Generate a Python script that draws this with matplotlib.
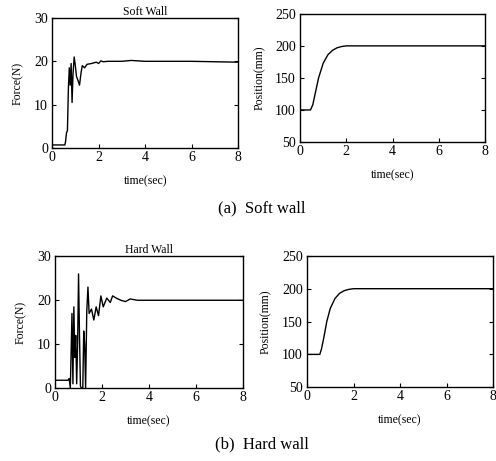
import matplotlib.pyplot as plt

plt.rcParams["font.family"] = ["Liberation Serif", "DejaVu Serif"]

# Soft wall force (N) vs time (sec)
soft_force_t = [0.0, 0.55, 0.58, 0.62, 0.66, 0.70, 0.74, 0.78, 0.82, 0.86, 0.90, 0.95,
                1.00, 1.05, 1.12, 1.18, 1.25, 1.30, 1.40, 1.50, 1.70, 1.90, 2.00, 2.10,
                2.20, 2.40, 3.00, 3.40, 4.00, 5.00, 6.00, 7.00, 8.00]
soft_force = [0.7, 0.7, 1.5, 3.5, 4.0, 13.5, 18.5, 14.5, 19.5, 10.5, 17.0, 21.0,
              19.0, 16.5, 15.5, 14.5, 17.5, 19.0, 18.5, 19.3, 19.5, 19.8, 19.5, 20.1,
              19.9, 20.0, 20.0, 20.2, 20.0, 20.0, 20.0, 19.9, 19.8]

# Soft wall position (mm)
soft_pos_t = [0.0, 0.45, 0.55, 0.65, 0.80, 1.00, 1.20, 1.40, 1.60, 1.80, 2.00, 2.50, 8.00]
soft_pos = [100, 100, 108, 125, 150, 173, 186, 193, 197, 199, 200, 200, 200]

# Hard wall force (N)
hard_force_t = [0.0, 0.55, 0.60, 0.65, 0.72, 0.76, 0.80, 0.84, 0.88, 0.92, 0.96, 1.00,
                1.04, 1.08, 1.12, 1.18, 1.22, 1.26, 1.30, 1.35, 1.40, 1.45, 1.55, 1.65,
                1.75, 1.85, 1.95, 2.05, 2.20, 2.35, 2.45, 2.60, 2.80, 3.00, 3.20, 3.50,
                4.00, 5.00, 6.00, 7.00, 8.00]
hard_force = [1.8, 1.8, 2.2, 0.0, 17.0, 1.0, 18.5, 7.0, 12.0, 1.0, 10.0, 26.0,
              12.0, 0.5, 0.0, 0.0, 13.0, 10.0, 0.0, 17.5, 23.0, 17.0, 18.0, 15.5,
              18.5, 16.5, 21.0, 18.5, 20.5, 19.5, 21.0, 20.5, 20.0, 19.7, 20.3, 20.0,
              20.0, 20.0, 20.0, 20.0, 20.0]

# Hard wall position (mm)
hard_pos_t = [0.0, 0.55, 0.62, 0.72, 0.85, 1.00, 1.20, 1.40, 1.60, 1.80, 2.00, 2.50, 8.00]
hard_pos = [100, 100, 108, 125, 150, 170, 185, 193, 197, 199, 200, 200, 200]

xticks = [0, 2, 4, 6, 8]
force_ticks = [0, 10, 20, 30]
pos_ticks = [50, 100, 150, 200, 250]

fig = plt.figure(figsize=(4.96, 4.61), dpi=100)


def style(ax, yticks, ylabel):
    ax.set_xlim(0, 8)
    ax.set_xticks(xticks)
    ax.set_ylim(yticks[0], yticks[-1])
    ax.set_yticks(yticks)
    ax.tick_params(direction="in", length=3, labelsize=10, top=False, right=True)
    ax.tick_params(axis="x", pad=2)
    ax.tick_params(axis="y", pad=3)
    ax.set_xlabel("time(sec)", fontsize=8.5, labelpad=8)
    ax.set_ylabel(ylabel, fontsize=8.5, labelpad=7)
    for s in ax.spines.values():
        s.set_linewidth(1.0)


ax1 = fig.add_axes([0.105, 0.679, 0.375, 0.282])
ax1.plot(soft_force_t, soft_force, color="black", lw=1.0)
style(ax1, force_ticks, "Force(N)")
ax1.set_title("Soft Wall", fontsize=8.5, pad=0)

ax2 = fig.add_axes([0.605, 0.692, 0.373, 0.278])
ax2.plot(soft_pos_t, soft_pos, color="black", lw=1.0)
style(ax2, pos_ticks, "Position(mm)")

ax3 = fig.add_axes([0.111, 0.158, 0.379, 0.286])
ax3.plot(hard_force_t, hard_force, color="black", lw=1.0)
style(ax3, force_ticks, "Force(N)")
ax3.set_title("Hard Wall", fontsize=8.5, pad=0)

ax4 = fig.add_axes([0.619, 0.160, 0.375, 0.285])
ax4.plot(hard_pos_t, hard_pos, color="black", lw=1.0)
style(ax4, pos_ticks, "Position(mm)")

fig.text(0.527, 0.549, "(a)  Soft wall", ha="center", va="center", fontsize=12)
fig.text(0.528, 0.035, "(b)  Hard wall", ha="center", va="center", fontsize=12)

fig.savefig("out.png", dpi=100)
